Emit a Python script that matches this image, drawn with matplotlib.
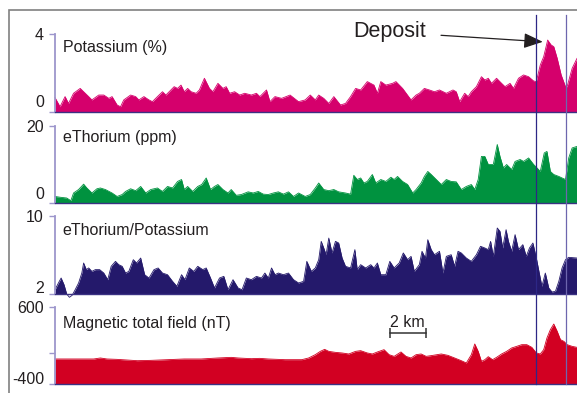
import numpy as np
import matplotlib
matplotlib.use("Agg")
import matplotlib.pyplot as plt
from matplotlib.transforms import ScaledTranslation, blended_transform_factory
from matplotlib.lines import Line2D
from matplotlib.patches import Rectangle

plt.rcParams.update({"font.family": "Liberation Sans", "font.size": 11.5})

# ---- profile readings, distance along line in km ----
k_km = [0.0, 0.28, 0.56, 0.75, 1.03, 1.40, 1.68, 1.87, 2.05, 2.43,
        2.71, 2.99, 3.17, 3.45, 3.64, 3.82, 4.20, 4.48, 4.66, 4.94,
        5.22, 5.41, 5.69, 5.97, 6.16, 6.62, 6.81, 7.00, 7.18, 7.37,
        7.56, 7.84, 8.02, 8.30, 8.58, 8.77, 9.05, 9.33, 9.51, 9.70,
        9.98, 10.26, 10.54, 10.91, 11.19, 11.38, 11.75, 11.94, 12.22, 12.59,
        13.06, 13.53, 13.90, 14.18, 14.46, 14.65, 14.93, 15.21, 15.49, 15.86,
        16.14, 16.42, 16.70, 16.98, 17.35, 17.72, 17.91, 18.10, 18.38, 18.75,
        18.94, 19.31, 19.78, 20.06, 20.24, 20.52, 20.80, 21.08, 21.36, 21.74,
        22.11, 22.29, 22.48, 22.76, 22.95, 23.13, 23.41, 23.69, 23.88, 24.07,
        24.25, 24.53, 24.81, 25.00, 25.28, 25.47, 25.75, 26.03, 26.31, 26.59,
        26.74, 26.96, 27.15, 27.37, 27.56, 27.71, 27.90, 28.12, 28.36, 28.45, 28.73, 29.0]
k_pct = [0.74, 0.27, 0.79, 0.44, 0.96, 1.21, 0.96, 0.79, 0.62, 0.87,
         0.87, 0.70, 0.79, 0.36, 0.27, 0.62, 0.87, 0.79, 0.62, 0.79,
         0.62, 0.53, 0.79, 1.04, 0.87, 1.30, 1.21, 1.38, 1.04, 1.21,
         1.04, 0.96, 1.13, 1.73, 1.21, 1.04, 1.47, 1.21, 1.30, 0.96,
         1.04, 0.87, 0.96, 0.87, 0.96, 0.79, 1.13, 0.53, 0.79, 0.70,
         0.87, 0.53, 0.62, 0.87, 0.62, 0.87, 0.70, 0.44, 0.79, 0.36,
         0.44, 0.79, 1.21, 1.13, 1.56, 1.38, 0.96, 1.56, 1.38, 1.47,
         1.56, 1.21, 0.62, 0.87, 0.96, 1.21, 1.13, 1.04, 1.13, 0.96,
         1.13, 1.04, 0.53, 0.96, 0.79, 1.04, 1.30, 1.81, 1.64, 1.73,
         1.47, 1.73, 1.47, 1.30, 1.47, 1.21, 1.73, 1.90, 1.81, 1.59,
         1.56, 2.41, 2.84, 3.69, 3.44, 3.35, 2.75, 1.90, 1.30, 1.30, 2.24, 2.75]

th_km = [0.0, 0.28, 0.65, 0.88, 1.03, 1.31, 1.59, 1.77, 2.05, 2.33,
         2.52, 2.80, 3.17, 3.45, 3.73, 3.92, 4.20, 4.48, 4.76, 5.04,
         5.32, 5.69, 5.97, 6.25, 6.53, 6.81, 7.03, 7.18, 7.37, 7.65,
         7.93, 8.15, 8.40, 8.64, 8.86, 9.05, 9.33, 9.61, 9.79, 10.07,
         10.35, 10.73, 11.01, 11.29, 11.57, 11.85, 12.13, 12.41, 12.69, 12.97,
         13.25, 13.53, 13.90, 14.18, 14.46, 14.65, 14.93, 15.21, 15.49, 15.76,
         16.14, 16.42, 16.60, 16.79, 16.98, 17.16, 17.35, 17.63, 17.82, 18.10,
         18.38, 18.66, 18.84, 19.03, 19.31, 19.59, 19.87, 20.06, 20.34, 20.52,
         20.71, 20.90, 21.18, 21.46, 21.74, 22.01, 22.29, 22.57, 22.85, 23.13,
         23.32, 23.51, 23.69, 23.88, 24.07, 24.35, 24.57, 24.72, 24.91, 25.09,
         25.37, 25.56, 25.84, 26.03, 26.31, 26.59, 26.74, 26.96, 27.18, 27.33,
         27.52, 27.71, 27.99, 28.17, 28.36, 28.54, 28.73, 29.0]
th_ppm = [1.7, 1.5, 1.3, 0.6, 2.6, 3.5, 4.9, 3.9, 2.6, 3.7,
          3.9, 3.5, 2.6, 1.7, 2.2, 3.0, 3.7, 3.2, 4.3, 2.6,
          3.5, 3.9, 3.0, 4.3, 3.9, 5.6, 6.1, 3.5, 4.3, 3.0,
          4.3, 4.8, 6.5, 3.5, 4.3, 4.8, 3.5, 2.6, 3.5, 2.0,
          2.2, 2.9, 2.6, 3.0, 2.3, 2.2, 2.6, 2.9, 2.3, 2.9,
          1.7, 2.6, 1.7, 2.2, 3.9, 5.2, 3.5, 3.2, 3.5, 2.9,
          2.6, 2.3, 7.2, 6.1, 6.5, 5.2, 5.6, 7.4, 5.2, 6.1,
          5.6, 6.7, 6.1, 6.9, 5.6, 4.8, 2.6, 3.5, 5.2, 6.9,
          8.2, 7.4, 6.1, 4.8, 6.1, 5.6, 5.5, 3.5, 4.3, 4.8,
          3.5, 6.1, 12.1, 12.1, 10.0, 10.0, 15.2, 12.1, 9.1, 10.0,
          8.7, 10.8, 11.3, 10.8, 11.7, 10.0, 9.3, 8.2, 13.0, 13.4,
          8.2, 7.4, 6.9, 6.5, 6.1, 11.7, 14.3, 14.7]

ratio_km = [0.0, 0.19, 0.34, 0.50, 0.65, 0.80, 0.95, 1.12, 1.31, 1.49,
            1.59, 1.74, 1.87, 2.05, 2.24, 2.48, 2.71, 2.93, 3.12, 3.36,
            3.54, 3.73, 3.92, 4.10, 4.35, 4.53, 4.76, 4.98, 5.22, 5.50,
            5.73, 5.97, 6.25, 6.53, 6.77, 7.03, 7.22, 7.46, 7.71, 7.93,
            8.21, 8.40, 8.64, 8.86, 9.14, 9.38, 9.61, 9.89, 10.17, 10.39,
            10.63, 10.91, 11.19, 11.47, 11.66, 11.85, 12.03, 12.22, 12.41, 12.69,
            12.97, 13.25, 13.53, 13.81, 13.99, 14.24, 14.46, 14.65, 14.79, 14.93,
            15.06, 15.21, 15.39, 15.58, 15.76, 15.95, 16.14, 16.42, 16.66, 16.79,
            16.98, 17.26, 17.54, 17.72, 17.91, 18.10, 18.38, 18.60, 18.84, 19.12,
            19.35, 19.59, 19.78, 19.96, 20.24, 20.39, 20.58, 20.71, 20.90, 21.08,
            21.36, 21.55, 21.74, 22.01, 22.20, 22.39, 22.57, 22.85, 23.13, 23.41,
            23.64, 23.88, 24.07, 24.20, 24.35, 24.57, 24.72, 24.87, 25.06, 25.19,
            25.37, 25.56, 25.75, 25.99, 26.18, 26.36, 26.55, 26.74, 26.92, 27.05,
            27.24, 27.43, 27.61, 27.80, 27.99, 28.17, 28.36, 28.54, 29.0]
ratio = [2.44, 3.13, 3.64, 2.96, 2.0, 1.66, 1.86, 2.44, 3.13, 4.15,
         5.18, 4.50, 4.67, 4.32, 4.50, 4.50, 4.15, 3.47, 4.84, 5.35,
         5.01, 4.84, 4.15, 4.32, 5.52, 5.18, 5.69, 3.98, 3.64, 4.50,
         4.67, 4.15, 3.98, 3.30, 2.79, 3.98, 3.47, 4.67, 4.32, 4.84,
         4.50, 4.67, 3.64, 2.62, 3.64, 3.81, 2.44, 3.47, 2.62, 2.44,
         3.64, 3.47, 3.81, 3.64, 4.15, 3.64, 4.67, 3.98, 4.15, 3.98,
         4.15, 3.47, 3.13, 3.30, 5.35, 4.32, 4.67, 5.52, 7.40, 6.72,
         6.03, 7.74, 6.21, 7.40, 7.23, 5.69, 4.84, 4.67, 6.55, 4.50,
         5.01, 4.67, 5.01, 4.67, 5.18, 3.98, 3.98, 5.35, 4.67, 5.18,
         6.21, 5.52, 5.86, 4.32, 5.01, 6.38, 5.69, 7.57, 6.55, 6.03,
         6.38, 4.15, 5.86, 6.03, 4.84, 6.38, 6.21, 5.69, 5.35, 6.03,
         6.89, 6.72, 6.55, 7.40, 5.86, 8.77, 8.43, 6.72, 8.60, 7.40,
         6.38, 8.09, 6.55, 7.06, 5.86, 6.72, 7.23, 5.69, 3.98, 2.79,
         4.15, 2.62, 2.21, 2.27, 3.30, 4.67, 5.52, 5.76, 5.69]

mag_km = [0.0, 2.15, 2.52, 2.89, 3.45, 4.57, 5.32, 6.25, 7.18, 8.12,
          9.05, 9.79, 10.17, 10.91, 11.38, 11.85, 12.78, 13.71, 14.09, 14.46,
          14.74, 14.98, 15.21, 15.58, 15.95, 16.32, 16.70, 16.98, 17.35, 17.63,
          17.91, 18.28, 18.56, 18.84, 19.22, 19.50, 19.78, 20.06, 20.34, 20.62,
          20.99, 21.46, 21.83, 22.20, 22.57, 22.85, 23.13, 23.32, 23.51, 23.69,
          23.88, 24.07, 24.31, 24.53, 24.81, 25.09, 25.37, 25.65, 25.93, 26.21,
          26.49, 26.74, 26.96, 27.15, 27.33, 27.52, 27.71, 27.90, 28.08, 28.27,
          28.45, 28.73, 29.0]
mag_nt = [-75, -75, -62, -75, -80, -97, -93, -84, -75, -75,
          -62, -54, -62, -71, -67, -75, -84, -84, -62, -19,
          24, 50, 24, 11, 3, -10, 24, 33, 3, -10,
          16, 46, -19, -41, 16, -41, -62, -19, -10, -41,
          -28, -10, -28, -62, -97, -127, -19, 120, 24, -106,
          -84, -45, -84, -54, -10, 24, 68, 89, 111, 111,
          76, 3, -10, 46, 198, 306, 379, 284, 176, 154,
          111, 89, 76]

DEPOSIT_KM = [26.7, 28.4]
SCALE_KM = 2

K_COL, TH_COL, RAT_COL, MAG_COL = "#D5006C", "#00923F", "#24196B", "#D20022"
SPINE, BASE, TXT = "#9d96cc", "#3b3283", "#231f20"

W, H = 577, 393
fig = plt.figure(figsize=(W / 100, H / 100), dpi=100)

panels = [
    # km, values, colour, label, ylim, ticks, ticklabels, top px, bottom px, label y, lift px
    (k_km, k_pct, K_COL, "Potassium (%)", (0, 4), [0, 4], ["0", "4"], 34, 112, 0.83, 11),
    (th_km, th_ppm, TH_COL, "eThorium (ppm)", (0, 20), [0, 20], ["0", "20"], 126, 203, 0.85, 10),
    (ratio_km, ratio, RAT_COL, "eThorium/Potassium", (2, 10), [2, 10], ["2", "10"], 216, 294, 0.82, 7),
    (mag_km, mag_nt, MAG_COL, "Magnetic total field (nT)", (-400, 600), [-400, 0, 600],
     ["-400", "", "600"], 307, 384, 0.79, 6),
]

axes = []
for km, vals, col, lab, ylim, ticks, tlabs, top, bot, ly, lift in panels:
    ax = fig.add_axes([55 / W, 1 - bot / H, 1 - 55 / W, (bot - top) / H])
    ax.fill_between(km, ylim[0], vals, color=col, lw=0)
    ax.plot(km, vals, color=col, lw=0.6, clip_on=False)
    ax.set_xlim(0, 29)
    ax.set_ylim(*ylim)
    ax.set_xticks([])
    ax.set_yticks(ticks)
    ax.set_yticklabels(tlabs)
    ax.tick_params(axis="y", length=4, width=1, color=SPINE, labelcolor=TXT,
                   labelsize=11.5, pad=4)
    for s in ("top", "right"):
        ax.spines[s].set_visible(False)
    ax.spines["left"].set_color(SPINE)
    ax.spines["left"].set_linewidth(1.3)
    ax.spines["bottom"].set_color(BASE)
    ax.spines["bottom"].set_linewidth(1.0)
    ax.spines["bottom"].set_zorder(3)
    ax.yaxis.get_major_ticks()[0].tick1line.set_color(BASE)
    lbl = ax.get_yticklabels()[0]
    lbl.set_transform(lbl.get_transform() + ScaledTranslation(0, lift / 100, fig.dpi_scale_trans))
    ax.text(0.015, ly, lab, transform=ax.transAxes, va="center", ha="left",
            fontsize=11.5, color=TXT)
    axes.append(ax)

# deposit markers running through all panels
tr = blended_transform_factory(axes[0].transData, fig.transFigure)
for x, c in zip(DEPOSIT_KM, ["#2d2786", "#6d66ae"]):
    fig.add_artist(Line2D([x, x], [1 - 384 / H, 1 - 15 / H], transform=tr, color=c, lw=0.9))

axes[0].annotate("Deposit", xy=(27.1, 3.6), xycoords="data",
                 xytext=(353 / W, 1 - 32 / H), textcoords="figure fraction",
                 ha="left", va="center", fontsize=15.5, color=TXT,
                 arrowprops=dict(arrowstyle="-|>,head_length=0.75,head_width=0.3",
                                 color=TXT, lw=0.9, shrinkA=9, shrinkB=0))

# scale bar
ax4 = axes[3]
bar0 = 18.6
ax4.plot([bar0, bar0 + SCALE_KM], [262, 262], color="#333333", lw=1.1,
         marker="|", ms=7, mew=1.1)
ax4.text(bar0 + SCALE_KM / 2, 300, f"{SCALE_KM} km", ha="center", va="bottom",
         fontsize=11.5, color=TXT)

# page frame
fig.add_artist(Rectangle((9 / W, -0.1), 2, 1 - 9.5 / H + 0.1, transform=fig.transFigure,
                         fill=False, ec="#808080", lw=1.2))

fig.savefig("out.png", dpi=100)
